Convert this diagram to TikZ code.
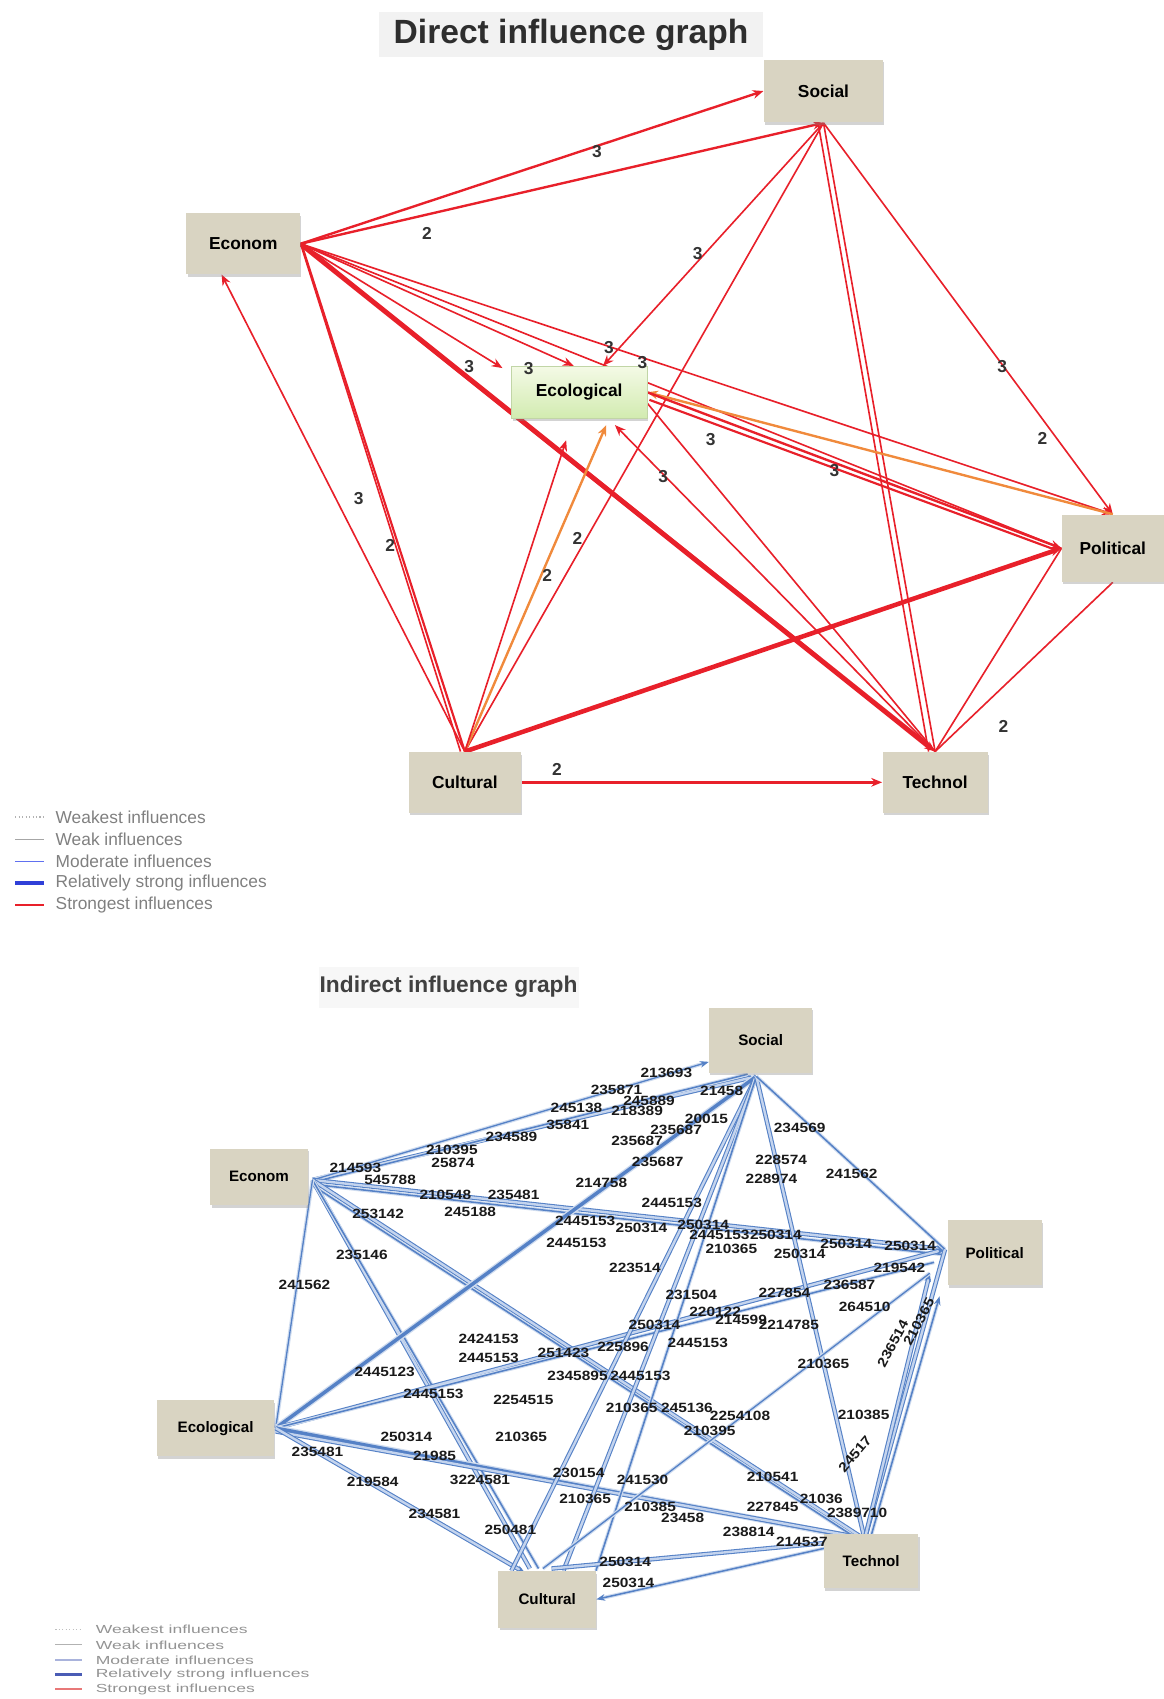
\documentclass[tikz,border=0pt]{standalone}
\usepackage{fontspec}
\setmainfont{Liberation Sans}
\usepackage{graphicx}
\usetikzlibrary{arrows.meta,calc,shadows,backgrounds}
\definecolor{boxfill}{HTML}{D9D4C2}
\definecolor{redl}{HTML}{E8202A}
\definecolor{orl}{HTML}{F08A3C}
\definecolor{bluel}{HTML}{5581C6}
\definecolor{bluelite}{HTML}{C4D4EE}
\definecolor{ecotop}{HTML}{F4FAE6}
\definecolor{ecobot}{HTML}{D2EBB0}
\definecolor{legtxt}{HTML}{808080}
\definecolor{legblue}{HTML}{6070F0}
\definecolor{legblueb}{HTML}{3040D8}
\definecolor{legmod}{HTML}{A9B3DC}
\definecolor{legstr}{HTML}{4A5CB5}
\definecolor{legred}{HTML}{E87878}
\definecolor{titlebg}{HTML}{F2F2F2}
\begin{document}
\begin{tikzpicture}[x=0.5pt,y=-0.5pt,
  box/.style={rectangle, fill=boxfill, inner sep=0pt, font=\fontsize{8}{9}\selectfont\bfseries,
    drop shadow={shadow xshift=0.6pt, shadow yshift=-1.2pt, opacity=0.35}},
  boxs/.style={box, font=\fontsize{7}{8}\selectfont\bfseries},
  greenbox/.style={top color=ecotop, bottom color=ecobot, draw=ecobot!80!gray, line width=0.3pt},
  rd/.style={draw=redl, line width=0.75pt},
  orn/.style={draw=orl, line width=1.1pt},
  ra/.style={-{Stealth[length=5pt,width=4pt]}},
  bl/.style={draw=bluel, line width=0.7pt, preaction={draw=bluel!28, line width=1.7pt}},
  blb/.style={draw=bluel, line width=0.5pt, double=bluelite, double distance=1.1pt},
  blt/.style={draw=bluel, line width=1.6pt, preaction={draw=bluel!28, line width=2.8pt}},
  ba/.style={-{Stealth[length=4pt,width=3pt]}},
  numlab/.style={font=\fontsize{6.2}{7}\selectfont\bfseries, inner sep=0pt, text=black!90},
  uplab/.style={font=\fontsize{8}{9}\selectfont\bfseries, inner sep=0pt, text=black!80},
  legu/.style={font=\fontsize{8}{9}\selectfont, text=legtxt, anchor=west, inner sep=0pt},
  legd/.style={font=\fontsize{5.4}{6}\selectfont, text=legtxt!85, anchor=west, inner sep=0pt}
]
\path[use as bounding box] (0,0) rectangle (1074,1568);

%================ UPPER GRAPH =================
\node[fill=titlebg, minimum width=177pt, minimum height=21pt, inner sep=0pt,
      font=\fontsize{15.5}{17}\selectfont\bfseries, text=black!82] (t1) at (527,32) {Direct influence graph};

\node[box, minimum width=55pt, minimum height=29pt] (soc) at (760,84) {Social};
\node[box, minimum width=52.5pt, minimum height=28pt] (eco) at (224.5,225) {Econom};
\node[box, greenbox, minimum width=62.5pt, minimum height=24pt] (ecl) at (534.5,362) {Ecological};
\node[box, minimum width=47pt, minimum height=31pt] (pol) at (1027,506) {Political};
\node[box, minimum width=52pt, minimum height=28pt] (cul) at (429,722) {Cultural};
\node[box, minimum width=48.5pt, minimum height=28pt] (tec) at (863,722) {Technol};

\begin{scope}[on background layer]
\draw[rd, ra, line width=1.1pt] (eco.east) -- (soc.west);
\draw[rd, ra, line width=1.1pt] (eco.east) -- (soc.south);
\draw[rd, ra] (eco.east) -- ($(ecl.north west)+(-8,2)$);
\draw[rd, ra] (eco.east) -- ($(ecl.north)+(-5,0)$);
\draw[rd, ra] (eco.east) -- (pol.north);
\draw[rd] (eco.east) -- (pol.west);
\draw[rd, ra, line width=2.3pt] (eco.east) -- (tec.north);
\draw[rd, line width=1pt] ($(eco.east)+(2,4)$) -- (cul.north);
\draw[rd] (eco.east) -- ($(cul.north)+(-4,0)$);
\draw[rd, ra] (cul.north) -- ($(eco.south)+(-20,0)$);
\draw[rd, ra] (soc.south) -- ($(ecl.north)+(22,0)$);
\draw[rd] (soc.south) -- (cul.north);
\draw[rd] (soc.south) -- (tec.north);
\draw[rd] ($(soc.south)+(-5,0)$) -- ($(tec.north)+(-6,0)$);
\draw[rd, ra] (soc.south) -- (pol.north);
\draw[orn, ra] (pol.north) -- (ecl.east);
\draw[rd, ra, line width=1.1pt] (ecl.east) -- (pol.west);
\draw[rd, line width=1pt] ($(ecl.east)+(2,7)$) -- ($(pol.west)+(-4,2)$);
\draw[orn, ra] (cul.north) -- ($(ecl.south)+(25,6)$);
\draw[rd, ra] (cul.north) -- ($(ecl.south)+(-12,20)$);
\draw[rd, ra] (tec.north) -- ($(ecl.south)+(33,6)$);
\draw[rd] ($(ecl.east)+(0,10)$) -- (tec.north);
\draw[rd, ra, line width=2.1pt] (cul.north) -- (pol.west);
\draw[rd, ra, line width=1.2pt] (cul.east) -- (tec.west);
\draw[rd] (tec.north) -- (pol.west);
\draw[rd] (tec.north) -- (pol.south);
\end{scope}

\foreach \t/\x/\y [count=\i] in {3/551/140, 2/394/215, 3/644/234, 3/562/321, 3/593/335,
  3/433/338, 3/488/340, 3/925/338, 2/962/405, 3/656/406, 3/612/440, 3/770/434,
  3/331/460, 2/360/503, 2/533/497, 2/505/531, 2/926/670, 2/514/710}
  \node[uplab] (u\i) at (\x,\y) {\t};

% upper legend
\draw[densely dotted, gray!60, line width=0.6pt] (14,754) -- (41,754);
\draw[gray!70, line width=0.6pt] (14,775) -- (41,775);
\draw[legblue, line width=0.7pt] (14,795) -- (41,795);
\draw[legblueb, line width=1.6pt] (14,815) -- (41,815);
\draw[redl, line width=0.7pt] (14,835) -- (41,835);
\node[legu] (lu1) at (51,754) {Weakest influences};
\node[legu] (lu2) at (51,775) {Weak influences};
\node[legu] (lu3) at (51,795) {Moderate influences};
\node[legu] (lu4) at (51,815) {Relatively strong influences};
\node[legu] (lu5) at (51,835) {Strongest influences};

%================ LOWER GRAPH =================
\node[fill=titlebg!60, minimum width=120pt, minimum height=19pt, inner sep=0pt,
      font=\fontsize{10.5}{12}\selectfont\bfseries, text=black!75] (t2) at (414,911) {Indirect influence graph};

\node[boxs, minimum width=47.5pt, minimum height=30pt] (soc2) at (702,960) {Social};
\node[boxs, minimum width=45pt, minimum height=26pt] (eco2) at (239,1086) {Econom};
\node[boxs, minimum width=43.5pt, minimum height=30pt] (pol2) at (918,1156) {Political};
\node[boxs, minimum width=54pt, minimum height=26pt] (ecl2) at (199,1318) {Ecological};
\node[boxs, minimum width=45pt, minimum height=26pt] (cul2) at (505,1476) {Cultural};
\node[boxs, minimum width=43.5pt, minimum height=25pt] (tec2) at (804,1441) {Technol};

\coordinate (hE) at ($(eco2.east)+(4,3)$);
\coordinate (hS) at ($(soc2.south)+(-4,3)$);
\coordinate (hP) at ($(pol2.west)+(-2,-3)$);
\coordinate (hL) at ($(ecl2.east)+(1,0)$);
\coordinate (hC) at ($(cul2.north)+(-4,-2)$);
\coordinate (hT) at ($(tec2.north)+(-6,5)$);

\begin{scope}[on background layer]
% Econom
\draw[blb, ba] (hE) -- (hS);
\draw[bl] ($(hE)+(0,2)$) -- ($(hS)+(-8,-2)$);
\draw[bl, ba, line width=0.6pt] (hE) -- ($(soc2.west)+(0,20)$);
\draw[blb, ba] (hE) -- (hP);
\draw[bl] ($(hE)+(0,4)$) -- ($(hP)+(0,5)$);
\draw[blb] (hE) -- (hT);
\draw[bl] ($(hE)+(0,5)$) -- ($(hT)+(-6,0)$);
\draw[blb] (hE) -- ($(hC)+(-12,0)$);
\draw[bl] (hE) -- ($(hC)+(-4,0)$);
\draw[bl, line width=0.6pt] (hE) -- (hL);
% Ecological
\draw[blt] (hL) -- (hS);
\draw[blb, ba] (hL) -- (hP);
\draw[bl] (hL) -- ($(hP)+(-10,12)$);
\draw[blt] (hL) -- (hT);
\draw[blb] ($(hL)+(0,3)$) -- ($(hT)+(-6,-2)$);
\draw[blb, ba] (hL) -- ($(cul2.north west)+(25,2)$);
% Social
\draw[blb] (hS) -- ($(cul2.north)+(-33,0)$);
\draw[blb] (hS) -- ($(cul2.north)+(15,0)$);
\draw[bl] (hS) -- ($(cul2.north)+(45,0)$);
\draw[blb] (hS) -- (hT);
\draw[bl] (hS) -- (hP);
% Political
\draw[blb] (hP) -- (hT);
\draw[blb, ba] (hT) -- ($(pol2.west)+(-16,19)$);
\draw[bl, ba] ($(hT)+(5,0)$) -- ($(pol2.south west)+(-7,10)$);
\draw[bl, line width=0.6pt] (hC) -- ($(pol2.west)+(-16,19)$);
% Technol
\draw[blb] (hT) -- ($(hC)+(8,0)$);
\draw[bl, ba] (hT) -- (cul2.east);
\end{scope}

\foreach \t/\x/\y [count=\i] in {213693/615/990, 235871/569/1006, 21458/666/1007,
  245138/532/1022, 245889/599/1016, 218389/588/1025, 35841/524/1038, 234589/472/1049,
  20015/652/1033, 235687/624/1043, 235687/588/1053, 235687/607/1072, 210395/417/1061,
  25874/418/1073, 214593/328/1078, 545788/360/1089, 210548/411/1103, 235481/474/1103,
  253142/349/1120, 245188/434/1118, 214758/555/1092, 2445153/620/1110, 2445153/540/1127,
  250314/592/1133, 250314/649/1130, 2445153/532/1147, 2445153/664/1140, 234569/738/1041,
  228574/721/1070, 228974/712/1088, 241562/786/1083, 250314/781/1148, 250314/840/1150,
  210365/675/1153, 250314/738/1157, 250314/716/1140, 219542/830/1170, 223514/586/1170,
  236587/784/1186, 231504/638/1195, 227854/724/1193, 264510/798/1206, 220122/660/1211,
  214599/684/1218, 2214785/728/1223, 250314/604/1223, 2445153/644/1239, 210365/760/1259,
  225896/575/1243, 2345895/533/1270, 2445153/591/1270, 2424153/451/1236, 2445153/451/1253,
  251423/520/1249, 2445123/355/1266, 2445153/400/1286, 2254515/483/1292, 210365/583/1299,
  245136/634/1299, 2254108/683/1307, 210395/655/1321, 210385/797/1306, 250314/375/1326,
  210365/481/1326, 21985/401/1344, 235481/293/1340, 219584/344/1368, 3224581/443/1366,
  230154/534/1359, 241530/593/1366, 210541/713/1363, 210365/540/1383, 210385/600/1391,
  23458/630/1401, 227845/713/1391, 21036/758/1383, 2389710/791/1396, 238814/691/1414,
  214537/740/1423, 234581/401/1397, 250481/471/1412, 250314/577/1441, 250314/580/1461,
  235146/334/1158, 241562/281/1186}
  \node[numlab] (n\i) at (\x,\y) {\scalebox{1.15}[1]{\t}};
\node[numlab, rotate=62] (r1) at (848,1220) {\scalebox{1.15}[1]{210365}};
\node[numlab, rotate=62] (r2) at (824,1240) {\scalebox{1.15}[1]{236514}};
\node[numlab, rotate=50] (r3) at (789,1342) {\scalebox{1.15}[1]{24517}};

% lower legend
\draw[densely dotted, gray!50, line width=0.6pt] (51,1504) -- (76,1504);
\draw[gray!60, line width=0.6pt] (51,1518) -- (76,1518);
\draw[legmod, line width=0.8pt] (51,1532) -- (76,1532);
\draw[legstr, line width=1.3pt] (51,1545) -- (76,1545);
\draw[legred, line width=0.8pt] (51,1559) -- (76,1559);
\node[legd] (ld1) at (88,1504) {\scalebox{1.5}[1]{Weakest influences}};
\node[legd] (ld2) at (88,1518) {\scalebox{1.5}[1]{Weak influences}};
\node[legd] (ld3) at (88,1532) {\scalebox{1.5}[1]{Moderate influences}};
\node[legd] (ld4) at (88,1545) {\scalebox{1.5}[1]{Relatively strong influences}};
\node[legd] (ld5) at (88,1559) {\scalebox{1.5}[1]{Strongest influences}};
\end{tikzpicture}
\end{document}
